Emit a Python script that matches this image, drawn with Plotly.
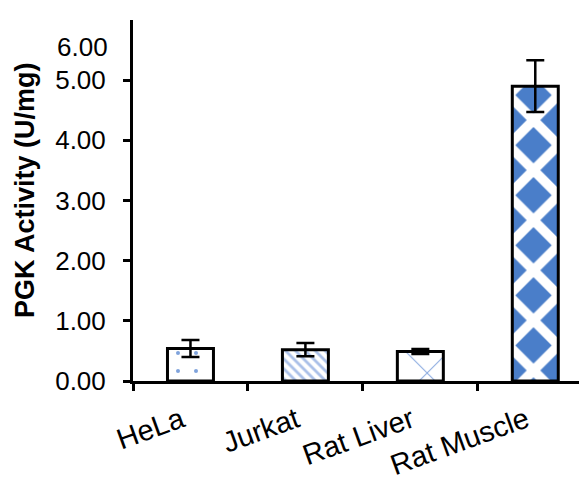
import plotly.graph_objects as go

categories = ["HeLa", "Jurkat", "Rat Liver", "Rat Muscle"]
activity = [0.54, 0.52, 0.49, 4.90]
errors = [0.14, 0.11, 0.04, 0.43]
y_tick_vals = [0, 1, 2, 3, 4, 5]
y_tick_text = ["0.00", "1.00", "2.00", "3.00", "4.00", "5.00"]
y_top_label = "6.00"

pattern_shapes = [".", "\\", "x", "x"]
pattern_fg = ["#7fa3dc", "#a9bfe8", "#8aaae0", "#ffffff"]
pattern_bg = ["#ffffff", "#ffffff", "#ffffff", "#4a7ec9"]
pattern_size = [18, 7, 41.6, 35.4]
pattern_solid = [0.04, 0.4, 0.05, 0.47]

font_family = "Liberation Sans, Arial, sans-serif"

# page body has an 8px margin, so the figure is 8px smaller than the window
W, H = 579, 472
L, T = 125, 12
PW, PH = 454, 361

fig = go.Figure()
fig.add_trace(go.Bar(
    x=categories,
    y=activity,
    width=0.4,
    marker=dict(
        color="#ffffff",
        line=dict(color="black", width=3),
        pattern=dict(shape=pattern_shapes, fgcolor=pattern_fg, bgcolor=pattern_bg,
                     size=pattern_size, solidity=pattern_solid, fillmode="replace"),
    ),
    error_y=dict(type="data", array=errors, visible=True, color="black",
                 thickness=2.5, width=9),
))

fig.update_layout(
    width=W, height=H,
    margin=dict(l=L, r=W - L - PW, t=T, b=H - T - PH, pad=0),
    paper_bgcolor="white", plot_bgcolor="white",
    showlegend=False,
    font=dict(family=font_family, color="black", size=26),
    xaxis=dict(
        range=[-0.5, 3.45], automargin=False,
        showline=True, linecolor="black", linewidth=3,
        ticks="outside", tickson="boundaries", ticklen=7, tickwidth=2.5, tickcolor="black",
        tickangle=-20, tickfont=dict(size=29), ticklabelstandoff=8, ticklabelshift=-9,
        showgrid=False, zeroline=False,
    ),
    yaxis=dict(
        range=[0, 6], automargin=False,
        tickvals=y_tick_vals, ticktext=y_tick_text,
        showline=True, linecolor="black", linewidth=3,
        ticks="outside", ticklen=7, tickwidth=2.5, tickcolor="black",
        tickfont=dict(size=26), ticklabelstandoff=12,
        showgrid=False, zeroline=False,
    ),
    annotations=[
        dict(
            text="<b>PGK Activity (U/mg)</b>", textangle=-90,
            xref="paper", yref="paper", x=(25 - 133) / PW, y=(381 - 190) / PH,
            xanchor="center", yanchor="middle", showarrow=False,
            font=dict(size=27, family=font_family, color="black"),
        ),
        dict(
            text=y_top_label,
            xref="paper", yref="paper", x=(110 - 133) / PW, y=(381 - 47) / PH,
            xanchor="right", yanchor="middle", showarrow=False,
            font=dict(size=26, family=font_family, color="black"),
        ),
    ],
)

fig.write_html("out.html")
